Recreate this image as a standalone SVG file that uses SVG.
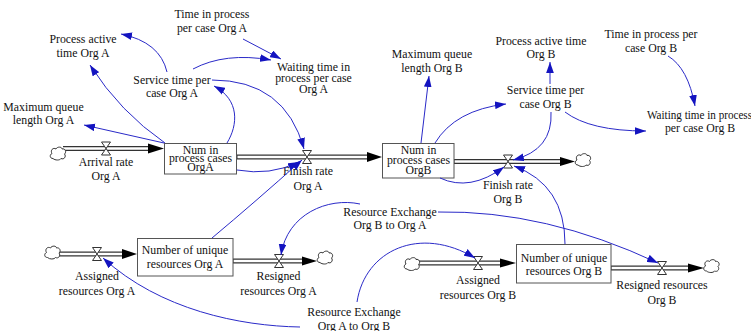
<svg xmlns="http://www.w3.org/2000/svg" width="751" height="331" viewBox="0 0 751 331" font-family="'Liberation Serif', 'Times New Roman', serif">
<style>
text{font-family:'Liberation Serif','Times New Roman',serif;font-size:11.8px;fill:#111;text-anchor:middle}
.box{fill:#fff;stroke:#555;stroke-width:1}
.po{stroke:#333;stroke-width:5;fill:none}
.pi{stroke:#fff;stroke-width:2.4;fill:none}
.valve{fill:#fff;stroke:#333;stroke-width:1}
.head{fill:#000}
.cloud{fill:#fff;stroke:#333;stroke-width:1}
.conn{fill:none;stroke:#2a2ac8;stroke-width:1;marker-end:url(#ah)}
</style>
<defs>
<marker id="ah" viewBox="0 0 10 7" refX="10" refY="3.5" markerWidth="11" markerHeight="8" markerUnits="userSpaceOnUse" orient="auto">
<path d="M0,0 L10,3.5 L0,7 z" fill="#1414c0"/>
</marker>
<path id="cl" d="M-5,5 C-8.5,5 -8.5,1 -6,0 C-8,-3 -5,-6.5 -2,-4.5 C-1,-7 4,-7 4,-4.5 C7,-5.5 9,-1.5 6.5,0.5 C8.5,3 6,6.5 3,5 C2,7 -3,7 -5,5 Z"/>
</defs>

<g id="flows">
<line class="po" x1="63" y1="148.5" x2="149" y2="148.5"/><line class="pi" x1="63" y1="148.5" x2="149" y2="148.5"/>
<polygon class="head" points="148,143.5 164,148.5 148,153.5"/>
<line class="po" x1="237" y1="157" x2="368" y2="157"/><line class="pi" x1="237.5" y1="157" x2="368" y2="157"/>
<polygon class="head" points="367,152 382,157 367,162"/>
<line class="po" x1="454" y1="161.5" x2="561" y2="161.5"/><line class="pi" x1="454.5" y1="161.5" x2="561" y2="161.5"/>
<polygon class="head" points="560,157 575,161.5 560,166"/>
<line class="po" x1="59" y1="254" x2="123" y2="254"/><line class="pi" x1="59" y1="254" x2="123" y2="254"/>
<polygon class="head" points="122,249 137,254 122,259"/>
<line class="po" x1="233" y1="261" x2="303" y2="261"/><line class="pi" x1="233.5" y1="261" x2="303" y2="261"/>
<polygon class="head" points="302,256.5 317,261 302,265.5"/>
<line class="po" x1="419" y1="263" x2="501" y2="263"/><line class="pi" x1="419" y1="263" x2="501" y2="263"/>
<polygon class="head" points="500,258.5 516,263 500,267.5"/>
<line class="po" x1="611" y1="268" x2="689" y2="268"/><line class="pi" x1="611.5" y1="268" x2="689" y2="268"/>
<polygon class="head" points="688,263.5 704,268 688,272.5"/>
<use href="#cl" class="cloud" x="58" y="153.5"/>
<use href="#cl" class="cloud" x="583" y="160"/>
<use href="#cl" class="cloud" x="52.5" y="252.5"/>
<use href="#cl" class="cloud" x="325" y="257.5"/>
<use href="#cl" class="cloud" x="412" y="264"/>
<use href="#cl" class="cloud" x="711.5" y="266"/>
</g>

<g id="stock-num-a"><rect class="box" x="164.5" y="143.5" width="72" height="30.5"/>
<text x="200.5" y="153.5">Num in</text><text x="200.5" y="162">process cases</text><text x="200.5" y="170.5">OrgA</text></g>
<g id="stock-num-b"><rect class="box" x="382.5" y="143.5" width="71.5" height="34.5"/>
<text x="418.5" y="154">Num in</text><text x="418.5" y="164">process cases</text><text x="418.5" y="173.5">OrgB</text></g>
<g id="stock-res-a"><rect class="box" x="137.5" y="238.5" width="95.5" height="37.5"/>
<text x="185" y="253.5">Number of unique</text><text x="185" y="268">resources Org A</text></g>
<g id="stock-res-b"><rect class="box" x="516.5" y="244.5" width="94.5" height="38.5"/>
<text x="564" y="261.5">Number of unique</text><text x="564" y="275">resources Org B</text></g>

<g id="flow-arrival-a"><polygon class="valve" points="101.5,142 110.5,142 101.5,155 110.5,155"/>
<text x="106" y="166">Arrival rate</text><text x="106" y="180">Org A</text></g>
<g id="flow-finish-a"><polygon class="valve" points="302.5,150.5 311.5,150.5 302.5,163.5 311.5,163.5"/>
<text x="308" y="175">Finish rate</text><text x="308" y="190">Org A</text></g>
<g id="flow-finish-b"><polygon class="valve" points="503.5,155 512.5,155 503.5,168 512.5,168"/>
<text x="508" y="189">Finish rate</text><text x="508" y="203">Org B</text></g>
<g id="flow-assigned-a"><polygon class="valve" points="92.5,247.5 101.5,247.5 92.5,260.5 101.5,260.5"/>
<text x="97" y="280">Assigned</text><text x="97" y="295">resources Org A</text></g>
<g id="flow-resigned-a"><polygon class="valve" points="274.5,254.5 283.5,254.5 274.5,267.5 283.5,267.5"/>
<text x="278.5" y="280">Resigned</text><text x="278.5" y="295">resources Org A</text></g>
<g id="flow-assigned-b"><polygon class="valve" points="473.5,256.5 482.5,256.5 473.5,269.5 482.5,269.5"/>
<text x="478" y="284">Assigned</text><text x="478" y="298.5">resources Org B</text></g>
<g id="flow-resigned-b"><polygon class="valve" points="657.5,261.5 666.5,261.5 657.5,274.5 666.5,274.5"/>
<text x="662" y="289">Resigned resources</text><text x="662" y="303.5">Org B</text></g>

<g id="aux-time-a"><text x="212" y="17.5">Time in process</text><text x="212" y="31.5">per case Org A</text></g>
<g id="aux-pat-a"><text x="83" y="43">Process active</text><text x="83" y="57">time Org A</text></g>
<g id="aux-st-a"><text x="172" y="83.5">Service time per</text><text x="172" y="96.5">case Org A</text></g>
<g id="aux-mq-a"><text x="43.5" y="111">Maximum queue</text><text x="43.5" y="124">length Org A</text></g>
<g id="aux-wt-a"><text x="313.5" y="70.5">Waiting time in</text><text x="313.5" y="82">process per case</text><text x="313.5" y="93">Org A</text></g>
<g id="aux-mq-b"><text x="432" y="57.5">Maximum queue</text><text x="432" y="71.5">length Org B</text></g>
<g id="aux-pat-b"><text x="541" y="45">Process active time</text><text x="541" y="58">Org B</text></g>
<g id="aux-time-b"><text x="651" y="38">Time in process per</text><text x="651" y="52">case Org B</text></g>
<g id="aux-st-b"><text x="545.5" y="94">Service time per</text><text x="545.5" y="107.5">case Org B</text></g>
<g id="aux-wt-b"><text x="647" y="119" style="text-anchor:start" textLength="105" lengthAdjust="spacingAndGlyphs">Waiting time in process</text><text x="700" y="132">per case Org B</text></g>
<g id="aux-resex-ba"><text x="390" y="216">Resource Exchange</text><text x="390" y="229">Org B to Org A</text></g>
<g id="aux-resex-ab"><text x="354" y="316">Resource Exchange</text><text x="354" y="330">Org A to Org B</text></g>

<g id="connectors">
<path class="conn" d="M167,72 Q160,42 121,34"/>
<path class="conn" d="M165,143 Q120,112 90,65"/>
<path class="conn" d="M164,143 L84,125"/>
<path class="conn" d="M193,69 Q225,52 271,60"/>
<path class="conn" d="M243,39 L281,59"/>
<path class="conn" d="M227,143 C238,125 240,100 214,86"/>
<path class="conn" d="M212,80 Q285,80 304,149"/>
<path class="conn" d="M237,170 Q270,176 299,162"/>
<path class="conn" d="M212,238 Q255,202 302,160"/>
<path class="conn" d="M421,143 L429,76"/>
<path class="conn" d="M435,143 Q455,110 506,104"/>
<path class="conn" d="M550,84 L550,62"/>
<path class="conn" d="M565,112 Q590,131 646,131"/>
<path class="conn" d="M668,56 Q688,68 695,106"/>
<path class="conn" d="M551,112 Q553,150 513,160"/>
<path class="conn" d="M440,178 Q470,192 504,167"/>
<path class="conn" d="M565,244 Q565,185 514,166"/>
<path class="conn" d="M360,204 C328,197 287,214 281,255"/>
<path class="conn" d="M438,212 Q545,210 658,263"/>
<path class="conn" d="M300,327 C240,326 160,310 103,258"/>
<path class="conn" d="M357,302 C365,250 420,225 475,258"/>
</g>
</svg>
